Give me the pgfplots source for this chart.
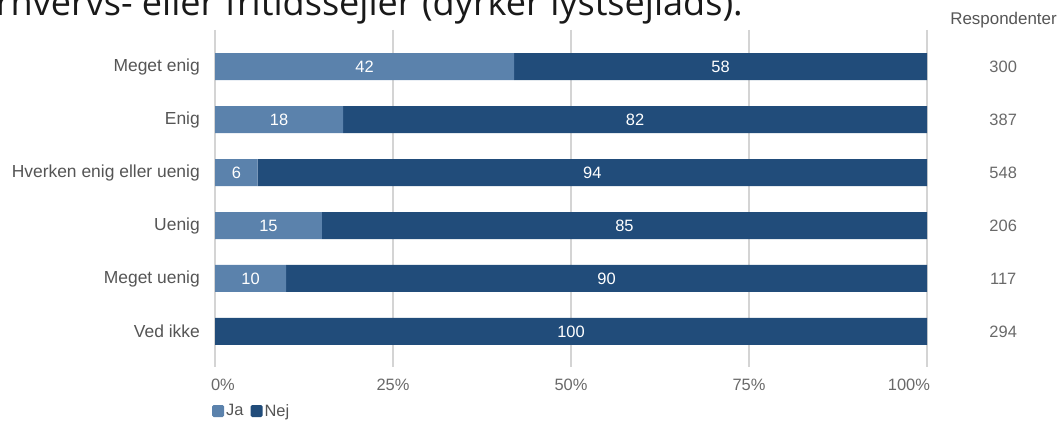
\documentclass[border=0pt]{standalone}
\usepackage{pgfplots}
\usepackage{pgfplotstable}
\pgfplotsset{compat=1.18}
\usepackage{fontspec}
\setmainfont{Liberation Sans}
\newfontfamily\titlefont{Open Sans}
\definecolor{ja}{RGB}{91,130,172}
\definecolor{nej}{RGB}{33,76,122}
\definecolor{lbl}{RGB}{85,85,85}
\definecolor{tickc}{RGB}{105,105,105}
\definecolor{gridc}{RGB}{212,212,212}
\definecolor{titlec}{RGB}{25,25,25}
\pgfplotstableread{
pos ja nej resp
0 42 58 300
1 18 82 387
2 6 94 548
3 15 85 206
4 10 90 117
5 0 100 294
}\data
\newcommand\fs{\fontsize{16.5}{20}\selectfont}
\begin{document}
\begin{tikzpicture}
\useasboundingbox (0bp,0bp) rectangle (1060bp,426bp);
\begin{scope}
\clip (0bp,0bp) rectangle (1060bp,426bp);
\node[anchor=base east, inner sep=0, font=\titlefont\fontsize{36.2}{40}\selectfont, text=titlec] at (743bp,410bp) {erhvervs- eller fritidssejler (dyrker lystsejlads).};
\end{scope}
\node[anchor=center, inner sep=0, font=\fontsize{17}{20}\selectfont, text=lbl] at (1003.5bp,406bp) {Respondenter};
\begin{axis}[
  at={(215bp,59bp)}, anchor=south west,
  scale only axis, width=712bp, height=337bp,
  xbar stacked, bar width=27bp,
  xmin=0, xmax=100, ymin=-0.689, ymax=5.67, y dir=reverse,
  axis line style={draw=none},
  xmajorgrids, major grid style={gridc, line width=1.6bp},
  xtick={0,25,50,75,100},
  xticklabels={\makebox[0pt][l]{\hspace{-4bp}0\%},25\%,50\%,75\%,\makebox[0pt][r]{100\%\hspace{-3bp}}},
  ytick={0,1,2,3,4,5},
  yticklabels={Meget enig, Enig, Hverken enig eller uenig, Uenig, Meget uenig, Ved ikke},
  major tick length=0,
  tick label style={font=\fs, inner sep=0},
  x tick label style={text=tickc, anchor=center, yshift=-18bp},
  y tick label style={text=lbl, anchor=east, xshift=-15bp, font=\fontsize{17.5}{20}\selectfont},
  legend style={at={(0,0)}, anchor=west, yshift=-44bp, xshift=-3bp, draw=none, fill=none,
    font=\fontsize{16.5}{18}\selectfont, text=lbl, legend columns=-1, inner sep=0,
    /tikz/every even column/.append style={column sep=5bp}},
  legend image code/.code={\fill[#1, rounded corners=1.5bp] (0bp,-6bp) rectangle (12bp,6bp);},
]
\addplot[fill=ja, draw=none] table[x=ja, y=pos] {\data};
\addplot[fill=nej, draw=none] table[x=nej, y=pos] {\data};
\legend{Ja, Nej}
\end{axis}
\begin{axis}[
  at={(215bp,59bp)}, anchor=south west,
  scale only axis, width=712bp, height=337bp,
  xmin=0, xmax=100, ymin=-0.689, ymax=5.67, y dir=reverse,
  hide axis, clip=false,
  /pgf/number format/assume math mode=true,
  nodes near coords, point meta=explicit,
  every node near coord/.append style={anchor=center, font=\fs, inner sep=0},
]
\addplot[draw=none, mark=none, restrict x to domain=0.1:100, every node near coord/.append style={text=white}]
  table[x expr=\thisrow{ja}/2, y=pos, meta=ja] {\data};
\addplot[draw=none, mark=none, every node near coord/.append style={text=white}]
  table[x expr=\thisrow{ja}+\thisrow{nej}/2, y=pos, meta=nej] {\data};
\addplot[draw=none, mark=none, every node near coord/.append style={text=tickc}]
  table[x expr=110.7, y=pos, meta=resp] {\data};
\end{axis}
\end{tikzpicture}
\end{document}
